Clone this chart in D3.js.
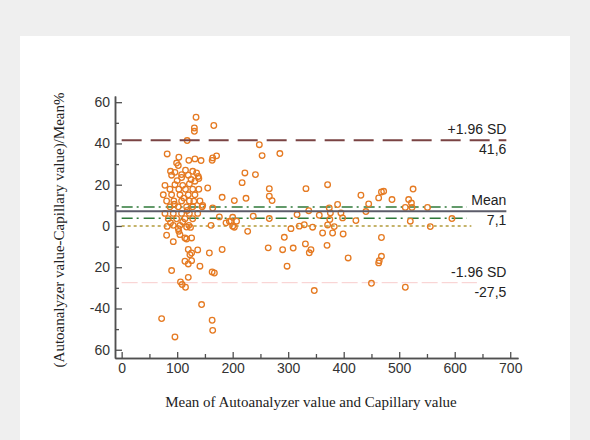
<!DOCTYPE html>
<html>
<head>
<meta charset="utf-8">
<script src="https://cdn.jsdelivr.net/npm/d3@7"></script>
<style>
  body { margin: 0; background: #efefef; }
  svg { display: block; }
</style>
</head>
<body>
<svg width="590" height="440"></svg>
<script>
// mean of the two methods (x) and their % difference (y)
var meanValues = [
  134, 131, 131, 166, 118, 82, 103, 99, 102, 121, 132, 143, 164, 171, 163, 248, 253, 285,
  88, 96, 115, 108, 128, 138, 90, 108, 120, 135, 139, 78, 96, 110, 122, 132,
  87, 103, 115, 128, 139, 75, 90, 105, 120, 132, 81, 94, 108, 122, 141,
  87, 102, 117, 128, 145, 78, 93, 108, 122, 137, 84, 99, 114, 128,
  93, 105, 121, 82, 117, 124, 102, 103, 81, 93, 105, 114, 117, 126,
  120, 123, 126, 137, 114, 126, 120, 141, 90, 163, 167, 120, 106, 109, 115,
  144, 72, 163, 164, 96,
  155, 181, 203, 224, 217, 222, 241, 146, 164, 176, 200, 237, 161, 188, 197, 194, 207,
  200, 203, 227, 158, 181,
  266, 266, 271, 332, 371, 431, 463, 468, 472, 487, 525, 517, 522, 511, 523, 551,
  445, 440, 389, 374, 376, 337, 316, 356, 375, 395, 398, 266, 422, 520, 595,
  305, 320, 329, 344, 371, 383, 556, 293, 362, 380, 399, 468,
  264, 290, 309, 331, 338, 341, 370, 298, 408, 468, 463, 464, 347, 450, 511,
  100, 112, 95, 118, 130, 110, 88, 125
];
var diffPct = [
  52.7, 47.5, 45.9, 48.7, 41.4, 34.9, 33.3, 30.5, 29.3, 31.8, 32.5, 31.7, 33, 34, 31.8, 39.4, 34.1, 35.1,
  26.5, 26, 27, 23.5, 26.5, 24, 24.6, 24.9, 24.6, 25.7, 23, 19.7, 20, 19.7, 20.4, 21.7,
  17.8, 17.8, 17.8, 17.8, 17.8, 15.1, 15.1, 15.1, 15.1, 15.1, 12.1, 12.1, 12.1, 12.1, 12.1,
  9.3, 9.3, 9.3, 9.3, 9.3, 6.1, 6.1, 6.1, 6.1, 6.1, 3.5, 3.5, 3.5, 3.5,
  0.3, 0.3, 0.3, -0.2, -0.5, -0.7, -1.3, -2.6, -4.5, -7.6, -4.2, -5.8, -6.3, -5.8,
  -11.4, -13.9, -13.1, -11.6, -17.1, -16.8, -18.4, -19.5, -21.6, -22.3, -22.8, -24.9, -27.1, -28.4, -29.7,
  -38.1, -44.9, -45.7, -50.6, -53.8,
  18.4, 13.9, 12.3, 13.4, 21, 25.7, 24.9, 10, 8.7, 4.4, 4.2, 4.7, 0.3, 1.5, 2.3, 2.3, 2.3,
  -0.1, -0.6, -2.6, -13.1, -11.4,
  18.1, 14.4, 12.3, 18.1, 20, 14.9, 13.6, 16.5, 16.8, 12.8, 17.9, 12.8, 11.1, 9, 9, 9,
  10.7, 7, 10.4, 8.7, 6.3, 7.4, 5.5, 5.2, 3.1, 6.3, 3.9, 3.6, 2.6, 2.3, 3.6,
  -1.3, -0.1, 0.6, -0.6, 0.5, -0.3, -0.3, -5.5, -3.4, -3.4, -3.9, -5.6,
  -10.6, -11.5, -10.7, -8.7, -13, -11.5, -9.4, -19.5, -15.5, -14.7, -17.9, -16.8, -31.3, -27.8, -29.7,
  22, 13.5, 10.5, 7.5, 12, 2, 1.5, 22.5
];

// tick values and labels as printed
var xTicks = [0, 100, 200, 300, 400, 500, 600, 700];
var xMinor = [50, 150, 250, 350, 450, 550, 650];
var yTicks = [60, 40, 20, 0, -20, -40, -60];
var yTickLabels = ["60", "40", "20", "0", "20", "-40", "60"];
var yMinor = [50, 30, 10, -10, -30, -50];

// Bland-Altman reference values
var upperLimit = 41.6;
var meanDiff = 7.1;
var lowerLimit = -27.5;
var meanCI = [9.2, 3.8];
var zeroLine = 0;
var upperLabels = ["+1.96 SD", "41,6"];
var meanLabels = ["Mean", "7,1"];
var lowerLabels = ["-1.96 SD", "-27,5"];

var svg = d3.select("svg");

// grey page with a white card
svg.append("rect").attr("width", 590).attr("height", 440).attr("fill", "#efefef");
svg.append("rect").attr("x", 20).attr("y", 36).attr("width", 550).attr("height", 420).attr("fill", "#ffffff");

// axes are offset from the data (MedCalc style)
var scX = d3.scaleLinear().domain([-12, 714]).range([115, 518]);
var scY = d3.scaleLinear().domain([-64, 63]).range([358, 96]);

var axisColor = "#505050";

function styleAxis(g) {
  g.select(".domain").attr("stroke", axisColor).attr("stroke-width", 1.5);
  g.selectAll(".tick line").attr("stroke", axisColor).attr("stroke-width", 1.3);
  g.selectAll(".tick text").attr("fill", "#333")
    .style("font-family", "'Liberation Sans', Arial, sans-serif");
}

// x axis: major ticks with labels, minor ticks without
svg.append("g").attr("transform", "translate(0,358)")
  .call(d3.axisBottom(scX).tickValues(xMinor).tickSizeInner(-4).tickSizeOuter(0).tickFormat(""))
  .call(styleAxis);
svg.append("g").attr("transform", "translate(0,358)")
  .call(d3.axisBottom(scX).tickValues(xTicks).tickSizeInner(-6).tickSizeOuter(0).tickPadding(5))
  .call(styleAxis)
  .selectAll(".tick text").style("font-size", "14px");

// y axis
svg.append("g").attr("transform", "translate(115,0)")
  .call(d3.axisLeft(scY).tickValues(yMinor).tickSizeInner(-4).tickSizeOuter(0).tickFormat(""))
  .call(styleAxis);
svg.append("g").attr("transform", "translate(115,0)")
  .call(d3.axisLeft(scY).tickValues(yTicks).tickSizeInner(-7).tickSizeOuter(0).tickPadding(5)
    .tickFormat((d, i) => yTickLabels[i]))
  .call(styleAxis)
  .selectAll(".tick text").style("font-size", "14px");

// horizontal reference lines
function hLine(value, x1, x2, color, width, dash) {
  svg.append("line")
    .attr("x1", scX(x1)).attr("x2", scX(x2))
    .attr("y1", scY(value)).attr("y2", scY(value))
    .attr("stroke", color).attr("stroke-width", width)
    .attr("stroke-dasharray", dash);
}

hLine(lowerLimit, 0, 640, "#f8cccc", 1, "16,4");
hLine(zeroLine, 0, 630, "#b39b3a", 1.5, "3,3");
hLine(meanCI[0], 0, 622, "#2f7a3a", 1.5, "11,4,2,5");
hLine(meanCI[1], 0, 622, "#2f7a3a", 1.5, "11,4,2,5");

// data points
svg.append("g").selectAll("circle")
  .data(meanValues).enter().append("circle")
  .attr("cx", d => scX(d))
  .attr("cy", (d, i) => scY(diffPct[i]))
  .attr("r", 2.8)
  .attr("fill", "none")
  .attr("stroke", "#e57a22")
  .attr("stroke-width", 1.3);

hLine(upperLimit, 0, 693, "#7a4343", 2, "20,9");
hLine(meanDiff, -12, 693, "#5c5c6a", 2, null);

// right hand labels
function sideLabels(value, labels) {
  var g = svg.append("g")
    .style("font-family", "'Liberation Sans', Arial, sans-serif")
    .style("font-size", "14px")
    .attr("fill", "#222")
    .attr("text-anchor", "end");
  g.append("text").attr("x", scX(693)).attr("y", scY(value) - 6).text(labels[0]);
  g.append("text").attr("x", scX(693)).attr("y", scY(value) + 14).text(labels[1]);
}
sideLabels(upperLimit, upperLabels);
sideLabels(meanDiff, meanLabels);
sideLabels(lowerLimit, lowerLabels);

// axis titles
svg.append("text")
  .attr("x", 311).attr("y", 407)
  .attr("text-anchor", "middle")
  .style("font-family", "'Liberation Serif', 'Times New Roman', serif")
  .style("font-size", "15px")
  .attr("fill", "#222")
  .text("Mean of Autoanalyzer value and Capillary value");

svg.append("text")
  .attr("transform", "translate(64,230) rotate(-90)")
  .attr("text-anchor", "middle")
  .style("font-family", "'Liberation Serif', 'Times New Roman', serif")
  .style("font-size", "15px")
  .attr("fill", "#222")
  .text("(Autoanalyzer value-Capillary value)/Mean%");
</script>
</body>
</html>
